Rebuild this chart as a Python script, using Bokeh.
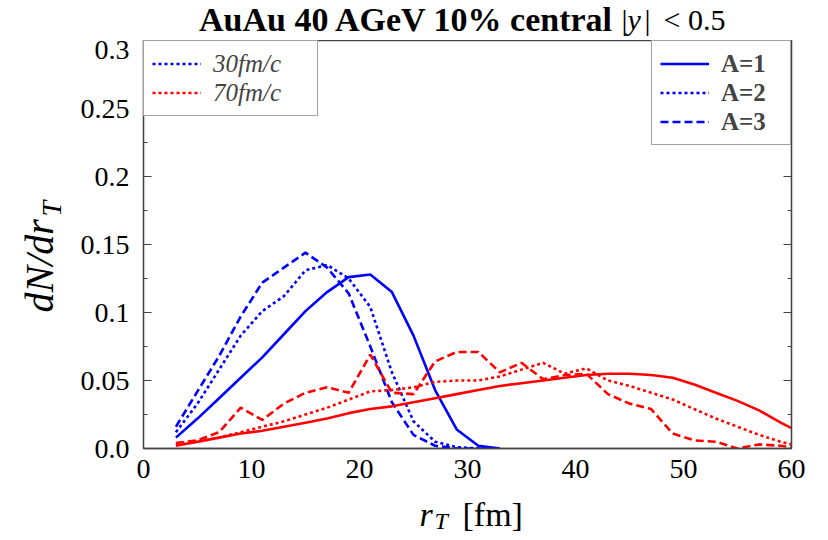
from math import pi
from bokeh.plotting import figure
from bokeh.layouts import column, row
from bokeh.models import Range1d, LinearAxis, FixedTicker, Legend, LegendItem, Label
from bokeh.embed import file_html
from bokeh.resources import INLINE

# ---------------- data ----------------
r_blue = [3, 5, 7, 9, 11, 13, 15, 17, 19, 21, 23, 25, 27, 29, 31, 33]
blue_A1 = [0.008, 0.022, 0.037, 0.052, 0.067, 0.084, 0.101, 0.115, 0.126, 0.128, 0.115, 0.083, 0.043, 0.014, 0.002, 0.0]
blue_A2 = [0.012, 0.033, 0.058, 0.083, 0.101, 0.112, 0.131, 0.135, 0.125, 0.104, 0.056, 0.020, 0.005, 0.001, 0.0, 0.0]
blue_A3 = [0.016, 0.042, 0.068, 0.097, 0.122, 0.133, 0.144, 0.133, 0.114, 0.075, 0.034, 0.010, 0.002, 0.0, 0.0, 0.0]

r_red = [3, 5, 7, 9, 11, 13, 15, 17, 19, 21, 23, 25, 27, 29, 31, 33, 35, 37, 39, 41,
         43, 45, 47, 49, 51, 53, 55, 57, 59, 61]
red_A1 = [0.002, 0.005, 0.008, 0.011, 0.013, 0.016, 0.019, 0.022, 0.026, 0.029, 0.031, 0.034, 0.037, 0.040,
          0.043, 0.046, 0.048, 0.050, 0.052, 0.054, 0.055, 0.055, 0.054, 0.052, 0.047, 0.041, 0.035, 0.028,
          0.019, 0.011]
red_A2 = [0.003, 0.005, 0.008, 0.012, 0.016, 0.020, 0.025, 0.030, 0.036, 0.042, 0.043, 0.045, 0.049, 0.050,
          0.050, 0.053, 0.058, 0.063, 0.055, 0.059, 0.050, 0.046, 0.041, 0.036, 0.029, 0.022, 0.016, 0.010,
          0.005, 0.001]
red_A3 = [0.004, 0.006, 0.012, 0.030, 0.021, 0.033, 0.041, 0.045, 0.041, 0.069, 0.041, 0.040, 0.064, 0.071,
          0.071, 0.056, 0.063, 0.051, 0.054, 0.055, 0.040, 0.033, 0.029, 0.011, 0.006, 0.005, 0.000, 0.003,
          0.002, 0.000]

x_ticks = [0, 10, 20, 30, 40, 50, 60]
x_tick_labels = ["0", "10", "20", "30", "40", "50", "60"]
y_ticks = [0, 0.05, 0.1, 0.15, 0.2, 0.25, 0.3]
y_tick_labels = ["0.0", "0.05", "0.1", "0.15", "0.2", "0.25", "0.3"]
y_minor = [0.025, 0.075, 0.125, 0.175, 0.225, 0.275]

time_labels = ["30fm/c", "70fm/c"]
A_labels = ["A=1", "A=2", "A=3"]

# ---------------- style ----------------
SERIF = "Liberation Serif"
BLUE = "#0000ff"
RED = "#ff0000"
FRAME = "#444444"
W, H = 828, 540
TITLE_H, XLAB_H, YLAB_W = 40, 48, 70

# ---------------- main figure ----------------
p = figure(width=W - YLAB_W, height=H - TITLE_H - XLAB_H,
           x_range=Range1d(0, 60), y_range=Range1d(0, 0.3),
           output_backend="svg", toolbar_location=None, title=None,
           min_border_left=73, min_border_right=37, min_border_top=0, min_border_bottom=44)
p.xgrid.visible = False
p.ygrid.visible = False
p.outline_line_color = FRAME
p.outline_line_width = 1.3

xa = p.xaxis[0]
xa.ticker = FixedTicker(ticks=x_ticks)
xa.major_label_overrides = {t: l for t, l in zip(x_ticks, x_tick_labels)}
xa.major_tick_in = 0
xa.major_tick_out = 0
xa.minor_tick_in = 0
xa.minor_tick_out = 0
xa.axis_line_color = FRAME
xa.axis_line_width = 1.3
xa.major_label_standoff = 11
xa.major_label_text_font = SERIF
xa.major_label_text_font_size = "28px"
xa.major_label_text_color = "black"

ya = p.yaxis[0]
ya.ticker = FixedTicker(ticks=y_ticks, minor_ticks=y_minor)
ya.major_label_overrides = {t: l for t, l in zip(y_ticks, y_tick_labels)}
ya.major_tick_in = 8
ya.major_tick_out = 0
ya.minor_tick_in = 4
ya.minor_tick_out = 0
ya.axis_line_color = FRAME
ya.axis_line_width = 1.3
ya.major_tick_line_color = FRAME
ya.minor_tick_line_color = FRAME
ya.major_label_standoff = 14
ya.major_label_text_font = SERIF
ya.major_label_text_font_size = "28px"
ya.major_label_text_color = "black"

ra = LinearAxis(ticker=FixedTicker(ticks=y_ticks, minor_ticks=y_minor),
                major_tick_in=8, major_tick_out=0, minor_tick_in=4, minor_tick_out=0,
                major_label_text_font_size="0px", major_label_text_alpha=0,
                axis_line_color=FRAME, axis_line_width=1.3,
                major_tick_line_color=FRAME, minor_tick_line_color=FRAME)
p.add_layout(ra, "right")

# ---------------- lines ----------------
LW = 2.6
DOT = "3 3"
DASH = "8 4"
rb1 = p.line(r_blue, blue_A1, line_color=BLUE, line_width=LW)
rb2 = p.line(r_blue, blue_A2, line_color=BLUE, line_width=LW, line_dash=DOT)
rb3 = p.line(r_blue, blue_A3, line_color=BLUE, line_width=LW, line_dash=DASH)
rr1 = p.line(r_red, red_A1, line_color=RED, line_width=LW)
rr2 = p.line(r_red, red_A2, line_color=RED, line_width=LW, line_dash=DOT)
rr3 = p.line(r_red, red_A3, line_color=RED, line_width=LW, line_dash=DASH)

# ---------------- legends ----------------
leg_common = dict(margin=0, padding=8, spacing=0, glyph_width=49, glyph_height=29,
                  label_height=29, label_standoff=12, label_text_font=SERIF,
                  label_text_font_size="25px", border_line_color=FRAME,
                  border_line_width=1.3, background_fill_alpha=1.0)

leg_left = Legend(items=[LegendItem(label=time_labels[0], renderers=[rb2]),
                         LegendItem(label=time_labels[1], renderers=[rr2])],
                  location="top_left", label_text_font_style="italic", label_width=96,
                  **leg_common)
leg_right = Legend(items=[LegendItem(label=A_labels[0], renderers=[rb1]),
                          LegendItem(label=A_labels[1], renderers=[rb2]),
                          LegendItem(label=A_labels[2], renderers=[rb3])],
                   location="top_right", label_text_font_style="bold", label_width=61,
                   **leg_common)
p.add_layout(leg_left)
p.add_layout(leg_right)


# ---------------- text panels (title / axis labels) ----------------
def text_fig(w, h):
    f = figure(width=w, height=h, x_range=Range1d(0, w), y_range=Range1d(0, h),
               output_backend="svg", toolbar_location=None, title=None,
               x_axis_type=None, y_axis_type=None,
               min_border_left=0, min_border_right=0, min_border_top=0, min_border_bottom=0)
    f.outline_line_color = None
    f.xgrid.visible = False
    f.ygrid.visible = False
    return f


def lab(f, x, y, text, size, style="normal", align="left", angle=0.0):
    f.add_layout(Label(x=x, y=y, x_units="screen", y_units="screen", text=text,
                       text_font=SERIF, text_font_size=size, text_font_style=style,
                       text_align=align, text_baseline="alphabetic", angle=angle,
                       text_color="black"))


# title panel (0..40 px from the top of the page)
tfig = text_fig(W, TITLE_H)
lab(tfig, 614, 21, "AuAu 40 AGeV 10% central", "34px", "bold", "right")
lab(tfig, 621, 21, "|", "30px")
lab(tfig, 627, 21, "y", "30px", "italic")
lab(tfig, 644, 21, "|", "30px")
lab(tfig, 663, 21, "< 0.5", "30px")

# x label panel (492..540 px)
xfig = text_fig(W, XLAB_H)
lab(xfig, 419, 26, "r", "34px", "italic")
lab(xfig, 434, 20, "T", "24px", "italic")
lab(xfig, 462, 26, "[fm]", "34px")

# y label panel (its frame is aligned with the plot frame: 40..448 px)
yfig = text_fig(YLAB_W, H - TITLE_H - XLAB_H)
lab(yfig, 39, 136, "dN/dr", "40px", "italic", angle=pi / 2)
lab(yfig, 51, 232, "T", "28px", "italic", angle=pi / 2)

layout = column(tfig, row(yfig, p), xfig)
open("out.html", "w").write(file_html(layout, INLINE))
